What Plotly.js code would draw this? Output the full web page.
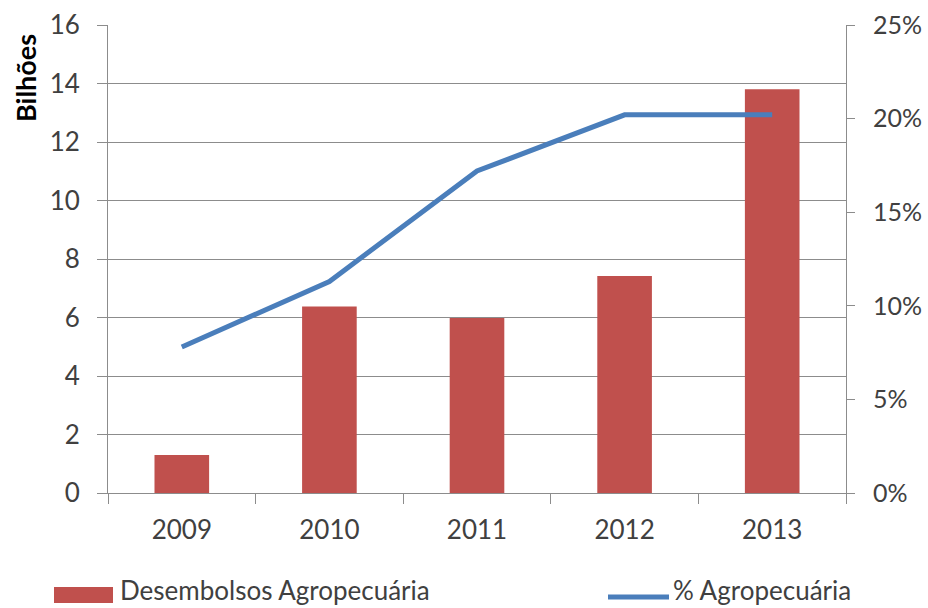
<!DOCTYPE html>
<html>
<head>
<meta charset="utf-8">
<script src="https://cdn.plot.ly/plotly-3.0.1.min.js"></script>
<style>html,body{margin:0;padding:0;background:#fff;}#chart{width:928px;height:608px;}</style>
</head>
<body>
<div id="chart"></div>
<script>
// ---- data ----
const years = ['2009', '2010', '2011', '2012', '2013'];
const desembolsos = [1.3, 6.38, 5.98, 7.42, 13.8];        // Bilhões
const pctAgro = [0.078, 0.113, 0.172, 0.202, 0.202];     // share
const barName = 'Desembolsos Agropecuária';
const lineName = '% Agropecuária';
const yTitle = 'Bilhões';

// ---- layout helpers (pixel -> paper) ----
const W = 928, H = 608;
const L = 108, R = 846, T = 25, B = 493;
const px = x => (x - L) / (R - L);
const py = y => (B - y) / (B - T);

const FONT = 'Lato, "Open Sans", sans-serif';
const TXT = '#404040';
const GRID = '#8c8c8c';
const BAR = '#C0504D';
const LINE = '#4A7EBB';

const traces = [
  {
    type: 'bar', x: years, y: desembolsos, name: barName,
    marker: {color: BAR}, yaxis: 'y', showlegend: false, hoverinfo: 'x+y'
  },
  {
    type: 'scatter', mode: 'lines', x: years, y: pctAgro, name: lineName,
    line: {color: LINE, width: 5}, yaxis: 'y2', showlegend: false
  }
];

const layout = {
  width: W, height: H,
  margin: {l: L, r: W - R, t: T, b: H - B, pad: 0},
  paper_bgcolor: '#fff', plot_bgcolor: '#fff',
  font: {family: FONT, size: 26, color: TXT},
  bargap: 0.63,
  showlegend: false,
  xaxis: {
    type: 'category',
    showline: true, linecolor: GRID, linewidth: 1,
    ticks: 'outside', ticklen: 10, tickcolor: GRID, tickson: 'boundaries',
    showgrid: false, zeroline: false,
    tickfont: {family: FONT, size: 26, color: TXT},
    ticklabelstandoff: 14
  },
  yaxis: {
    range: [0, 16], dtick: 2, tick0: 0,
    showline: true, linecolor: GRID, linewidth: 1,
    ticks: 'outside', ticklen: 10, tickcolor: GRID,
    showgrid: true, gridcolor: GRID, gridwidth: 1,
    zeroline: false,
    tickfont: {family: FONT, size: 26, color: TXT},
    ticklabelstandoff: 12
  },
  yaxis2: {
    overlaying: 'y', side: 'right',
    range: [0, 0.25], dtick: 0.05, tick0: 0, tickformat: '.0%',
    showline: true, linecolor: GRID, linewidth: 1,
    ticks: 'outside', ticklen: 8, tickcolor: GRID,
    showgrid: false, zeroline: false,
    tickfont: {family: FONT, size: 25, color: TXT},
    ticklabelstandoff: 13
  },
  shapes: [
    // legend swatches
    {type: 'rect', xref: 'paper', yref: 'paper',
     x0: px(54), x1: px(113), y0: py(603), y1: py(587),
     fillcolor: BAR, line: {width: 0}},
    {type: 'line', xref: 'paper', yref: 'paper',
     x0: px(608), x1: px(669), y0: py(597), y1: py(597),
     line: {color: LINE, width: 5}}
  ],
  annotations: [
    {text: '<b>' + yTitle + '</b>', xref: 'paper', yref: 'paper',
     x: px(25), y: py(78), textangle: -90, showarrow: false,
     font: {family: FONT, size: 27, color: '#000'},
     xanchor: 'center', yanchor: 'middle'},
    {text: barName, xref: 'paper', yref: 'paper',
     x: px(118), y: py(590), showarrow: false,
     xanchor: 'left', yanchor: 'middle',
     font: {family: FONT, size: 26, color: TXT}},
    {text: lineName, xref: 'paper', yref: 'paper',
     x: px(671), y: py(590), showarrow: false,
     xanchor: 'left', yanchor: 'middle',
     font: {family: FONT, size: 26, color: TXT}}
  ]
};

Plotly.newPlot('chart', traces, layout, {displayModeBar: false, staticPlot: true});
</script>
</body>
</html>
